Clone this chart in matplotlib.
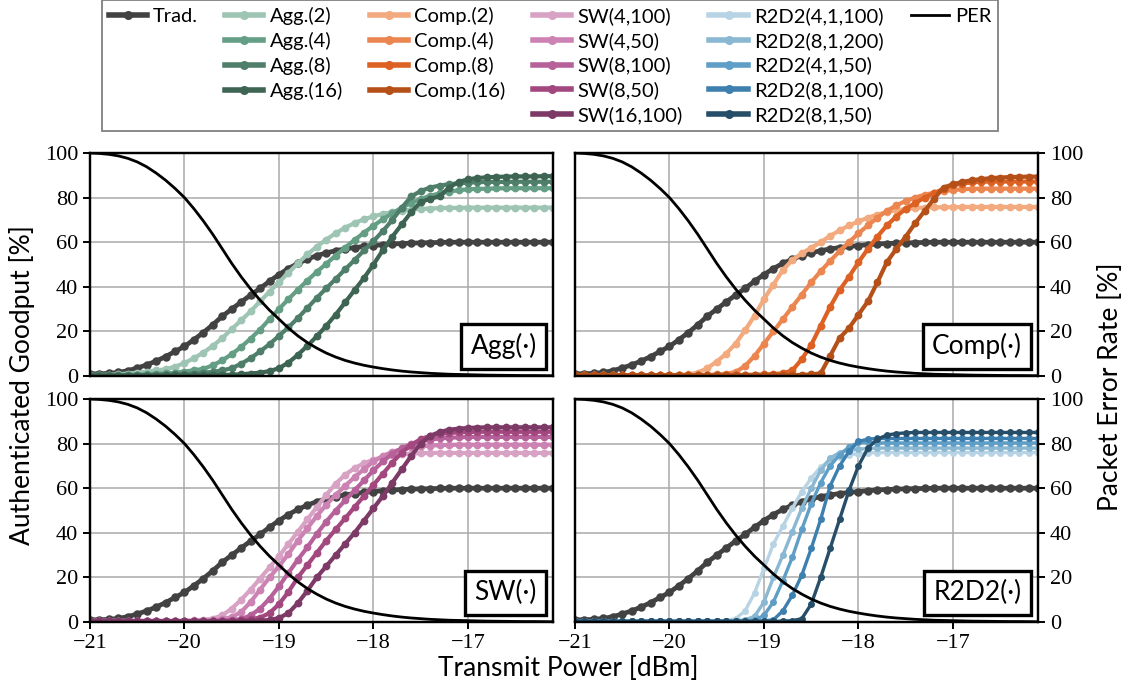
import numpy as np
import matplotlib
matplotlib.use('Agg')
import matplotlib.pyplot as plt
from matplotlib.lines import Line2D


############################################################################
## data (goodput / PER in %, power in dBm)
############################################################################
power = [-21.0, -20.9, -20.8, -20.7, -20.6, -20.5, -20.4, -20.3, -20.2, -20.1,
         -20.0, -19.9, -19.8, -19.7, -19.6, -19.5, -19.4, -19.3, -19.2, -19.1,
         -19.0, -18.9, -18.8, -18.7, -18.6, -18.5, -18.4, -18.3, -18.2, -18.1,
         -18.0, -17.9, -17.8, -17.7, -17.6, -17.5, -17.4, -17.3, -17.2, -17.1,
         -17.0, -16.9, -16.8, -16.7, -16.6, -16.5, -16.4, -16.3, -16.2, -16.1]

per = [100.0, 99.8, 99.4, 98.7, 97.6, 96.0, 93.8, 91.0, 87.8, 84.1,
       80.0, 75.0, 69.5, 63.5, 57.0, 50.5, 44.5, 39.0, 34.0, 29.5,
       25.5, 21.5, 18.0, 15.0, 12.5, 10.3, 8.5, 7.0, 5.8, 4.8,
       4.0, 3.3, 2.7, 2.2, 1.8, 1.5, 1.2, 1.0, 0.8, 0.7,
       0.6, 0.5, 0.4, 0.35, 0.3, 0.25, 0.2, 0.2, 0.15, 0.1]

trad = [1.0, 1.0, 1.2, 1.6, 2.4, 3.6, 5.0, 6.7, 8.7, 11.0,
        13.3, 16.3, 19.5, 23.0, 26.8, 30.0, 33.2, 36.3, 39.3, 42.5,
        45.5, 48.2, 50.5, 52.4, 54.0, 55.2, 56.2, 57.0, 57.6, 58.1,
        58.5, 58.9, 59.2, 59.4, 59.6, 59.7, 59.8, 59.9, 60.0, 60.0,
        60.0, 60.0, 60.0, 60.0, 60.0, 60.0, 60.0, 60.0, 60.0, 60.0]

agg_labels = ['Agg.(2)', 'Agg.(4)', 'Agg.(8)', 'Agg.(16)']
agg_2 = [0.5, 0.5, 0.6, 0.8, 1.1, 1.5, 2.0, 2.5, 3.0, 4.2,
         5.8, 8.0, 10.5, 13.5, 17.0, 21.0, 25.0, 29.0, 33.5, 37.8,
         42.0, 46.3, 50.5, 54.5, 58.0, 61.2, 64.0, 66.5, 68.6, 70.3,
         71.6, 72.7, 73.5, 74.1, 74.6, 74.9, 75.1, 75.3, 75.4, 75.4,
         75.5, 75.5, 75.5, 75.5, 75.5, 75.5, 75.5, 75.5, 75.5, 75.5]
agg_4 = [0.4, 0.4, 0.4, 0.5, 0.5, 0.6, 0.8, 1.0, 1.2, 1.5,
         2.0, 2.6, 3.2, 4.8, 7.0, 9.8, 13.0, 16.8, 20.8, 25.5,
         30.0, 34.5, 38.7, 42.8, 46.7, 50.3, 54.0, 57.6, 61.0, 64.3,
         67.4, 70.3, 73.0, 75.5, 77.6, 79.4, 80.8, 81.9, 82.7, 83.3,
         83.7, 83.9, 84.0, 84.1, 84.2, 84.2, 84.2, 84.2, 84.2, 84.2]
agg_8 = [0.3, 0.3, 0.3, 0.3, 0.3, 0.4, 0.4, 0.5, 0.6, 0.7,
         0.9, 1.1, 1.4, 1.9, 2.5, 3.5, 5.5, 8.0, 11.0, 14.3,
         18.0, 21.8, 26.0, 30.5, 35.0, 39.3, 43.5, 47.8, 52.0, 56.3,
         60.5, 65.0, 70.0, 75.5, 80.5, 83.0, 84.5, 85.4, 86.0, 86.4,
         86.7, 86.9, 87.0, 87.0, 87.0, 87.1, 87.1, 87.1, 87.1, 87.1]
agg_16 = [0.2, 0.2, 0.2, 0.2, 0.2, 0.2, 0.2, 0.2, 0.3, 0.3,
          0.3, 0.3, 0.4, 0.4, 0.5, 0.6, 0.8, 1.1, 1.5, 2.2,
          3.5, 6.0, 9.5, 13.5, 17.8, 22.5, 27.5, 33.0, 38.5, 44.0,
          50.0, 56.5, 62.5, 68.0, 73.5, 78.0, 79.5, 80.5, 84.5, 87.0,
          88.2, 88.8, 89.1, 89.3, 89.4, 89.5, 89.5, 89.5, 89.6, 89.6]

comp_labels = ['Comp.(2)', 'Comp.(4)', 'Comp.(8)', 'Comp.(16)']
comp_2 = [0.3, 0.3, 0.3, 0.3, 0.3, 0.3, 0.3, 0.3, 0.3, 0.3,
          0.4, 0.5, 0.8, 1.5, 3.5, 6.5, 10.0, 14.5, 20.5, 27.0,
          34.5, 41.0, 47.5, 52.0, 55.0, 57.5, 60.0, 62.8, 65.3, 67.5,
          69.3, 71.0, 72.4, 73.5, 74.3, 74.9, 75.3, 75.5, 75.6, 75.7,
          75.7, 75.8, 75.8, 75.8, 75.8, 75.8, 75.8, 75.8, 75.8, 75.8]
comp_4 = [0.3, 0.3, 0.3, 0.3, 0.3, 0.3, 0.3, 0.3, 0.3, 0.3,
          0.3, 0.3, 0.3, 0.4, 0.5, 0.7, 1.0, 1.8, 4.5, 9.0,
          14.5, 20.0, 25.5, 31.0, 36.5, 42.0, 47.0, 51.5, 56.0, 60.0,
          64.0, 67.5, 71.0, 74.0, 76.5, 78.5, 80.0, 81.3, 82.2, 82.9,
          83.4, 83.7, 83.9, 84.0, 84.0, 84.0, 84.0, 84.0, 84.0, 84.0]
comp_8 = [0.3, 0.3, 0.3, 0.3, 0.3, 0.3, 0.3, 0.3, 0.3, 0.3,
          0.3, 0.3, 0.3, 0.3, 0.3, 0.3, 0.3, 0.4, 0.5, 0.6,
          0.7, 0.9, 1.2, 2.5, 7.5, 14.0, 22.5, 31.0, 38.5, 44.5,
          51.0, 57.0, 62.5, 67.5, 71.5, 75.0, 77.5, 80.0, 82.0, 84.0,
          85.5, 86.3, 86.8, 87.1, 87.2, 87.2, 87.2, 87.2, 87.2, 87.2]
comp_16 = [0.3, 0.3, 0.3, 0.3, 0.3, 0.3, 0.3, 0.3, 0.3, 0.3,
           0.3, 0.3, 0.3, 0.3, 0.3, 0.3, 0.3, 0.3, 0.3, 0.3,
           0.3, 0.3, 0.3, 0.4, 0.5, 0.7, 1.2, 9.0, 17.0, 21.5,
           27.5, 33.5, 42.0, 51.0, 57.0, 62.5, 68.5, 74.0, 79.5, 84.5,
           86.0, 87.0, 87.8, 88.3, 88.7, 89.0, 89.2, 89.3, 89.4, 89.4]

sw_labels = ['SW(4,100)', 'SW(4,50)', 'SW(8,100)', 'SW(8,50)', 'SW(16,100)']
sw_4_100 = [0.5, 0.5, 0.5, 0.5, 0.5, 0.5, 0.5, 0.5, 0.5, 0.5,
            0.6, 0.8, 1.0, 1.5, 3.0, 6.0, 10.0, 14.5, 19.5, 24.5,
            29.5, 35.0, 40.5, 46.0, 51.5, 57.0, 62.0, 66.0, 69.0, 71.2,
            72.8, 73.9, 74.7, 75.2, 75.5, 75.7, 75.8, 75.8, 75.8, 75.8,
            75.8, 75.8, 75.8, 75.8, 75.8, 75.8, 75.8, 75.8, 75.8, 75.8]
sw_4_50 = [0.5, 0.5, 0.5, 0.5, 0.5, 0.5, 0.5, 0.5, 0.5, 0.5,
           0.5, 0.5, 0.6, 0.8, 1.2, 2.2, 4.5, 9.0, 14.5, 20.0,
           25.0, 30.5, 36.5, 42.0, 47.5, 52.5, 57.0, 61.0, 65.0, 68.5,
           72.0, 74.5, 76.3, 77.5, 78.3, 78.8, 79.1, 79.3, 79.4, 79.5,
           79.5, 79.5, 79.5, 79.5, 79.5, 79.5, 79.5, 79.5, 79.5, 79.5]
sw_8_100 = [0.4, 0.4, 0.4, 0.4, 0.4, 0.4, 0.4, 0.4, 0.4, 0.4,
            0.4, 0.4, 0.4, 0.4, 0.5, 0.8, 1.3, 3.0, 6.0, 10.5,
            16.0, 22.0, 28.0, 33.5, 39.5, 45.0, 50.0, 54.5, 59.0, 63.5,
            68.0, 72.0, 75.5, 78.0, 79.8, 81.0, 81.8, 82.3, 82.6, 82.8,
            83.0, 83.0, 83.0, 83.0, 83.0, 83.0, 83.0, 83.0, 83.0, 83.0]
sw_8_50 = [0.4, 0.4, 0.4, 0.4, 0.4, 0.4, 0.4, 0.4, 0.4, 0.4,
           0.4, 0.4, 0.4, 0.4, 0.4, 0.5, 0.7, 1.2, 2.0, 4.0,
           8.0, 13.5, 20.0, 25.5, 31.0, 36.5, 41.5, 46.5, 51.5, 56.5,
           61.5, 66.5, 71.5, 76.0, 79.5, 82.0, 83.5, 84.3, 84.8, 85.0,
           85.2, 85.3, 85.3, 85.3, 85.3, 85.3, 85.3, 85.3, 85.3, 85.3]
sw_16_100 = [0.3, 0.3, 0.3, 0.3, 0.3, 0.3, 0.3, 0.3, 0.3, 0.3,
             0.3, 0.3, 0.3, 0.3, 0.3, 0.3, 0.3, 0.4, 0.6, 0.9,
             1.8, 4.0, 8.5, 14.0, 20.0, 25.0, 30.0, 35.0, 40.0, 45.5,
             51.0, 56.5, 62.5, 68.5, 74.5, 80.0, 83.5, 85.2, 86.2, 86.7,
             87.0, 87.2, 87.3, 87.3, 87.3, 87.3, 87.3, 87.3, 87.3, 87.3]

r2d2_labels = ['R2D2(4,1,100)', 'R2D2(8,1,200)', 'R2D2(4,1,50)',
               'R2D2(8,1,100)', 'R2D2(8,1,50)']
r2d2_4_1_100 = [0.3, 0.3, 0.3, 0.3, 0.3, 0.3, 0.3, 0.3, 0.3, 0.3,
                0.3, 0.3, 0.3, 0.3, 0.3, 0.4, 0.6, 1.5, 5.0, 13.0,
                24.0, 35.0, 43.0, 51.0, 58.5, 64.5, 69.5, 72.5, 74.0, 75.0,
                75.5, 75.8, 76.0, 76.0, 76.0, 76.0, 76.0, 76.0, 76.0, 76.0,
                76.0, 76.0, 76.0, 76.0, 76.0, 76.0, 76.0, 76.0, 76.0, 76.0]
r2d2_8_1_200 = [0.3, 0.3, 0.3, 0.3, 0.3, 0.3, 0.3, 0.3, 0.3, 0.3,
                0.3, 0.3, 0.3, 0.3, 0.3, 0.3, 0.4, 0.6, 1.0, 2.5,
                9.0, 20.0, 30.0, 40.5, 51.0, 60.0, 68.0, 73.5, 76.0, 77.0,
                77.5, 77.8, 78.0, 78.0, 78.0, 78.0, 78.0, 78.0, 78.0, 78.0,
                78.0, 78.0, 78.0, 78.0, 78.0, 78.0, 78.0, 78.0, 78.0, 78.0]
r2d2_4_1_50 = [0.3, 0.3, 0.3, 0.3, 0.3, 0.3, 0.3, 0.3, 0.3, 0.3,
               0.3, 0.3, 0.3, 0.3, 0.3, 0.3, 0.3, 0.4, 0.5, 0.8,
               3.0, 9.0, 18.5, 29.0, 41.5, 53.0, 62.5, 70.0, 75.0, 78.5,
               80.5, 80.5, 80.3, 80.3, 80.3, 80.3, 80.3, 80.3, 80.3, 80.3,
               80.3, 80.3, 80.3, 80.3, 80.3, 80.3, 80.3, 80.3, 80.3, 80.3]
r2d2_8_1_100 = [0.3, 0.3, 0.3, 0.3, 0.3, 0.3, 0.3, 0.3, 0.3, 0.3,
                0.3, 0.3, 0.3, 0.3, 0.3, 0.3, 0.3, 0.3, 0.3, 0.4,
                0.5, 1.0, 5.0, 12.0, 21.0, 33.0, 46.0, 61.0, 70.0, 76.5,
                81.0, 82.0, 82.3, 82.3, 82.3, 82.3, 82.3, 82.3, 82.3, 82.3,
                82.3, 82.3, 82.3, 82.3, 82.3, 82.3, 82.3, 82.3, 82.3, 82.3]
r2d2_8_1_50 = [0.3, 0.3, 0.3, 0.3, 0.3, 0.3, 0.3, 0.3, 0.3, 0.3,
               0.3, 0.3, 0.3, 0.3, 0.3, 0.3, 0.3, 0.3, 0.3, 0.3,
               0.3, 0.3, 0.4, 0.6, 1.5, 8.0, 20.0, 33.0, 46.0, 59.0,
               70.0, 78.0, 82.0, 83.8, 84.5, 84.8, 85.0, 85.0, 85.0, 85.0,
               85.0, 85.0, 85.0, 85.0, 85.0, 85.0, 85.0, 85.0, 85.0, 85.0]

## colours
trad_color = '#424242'
agg_colors = ['#9ec4b3', '#649e85', '#4f7f6b', '#3e6454']
comp_colors = ['#f2aa7e', '#ec8650', '#dc6122', '#b65019']
sw_colors = ['#d8a2c4', '#cc82b2', '#b7619b', '#a3487f', '#7d3a66']
r2d2_colors = ['#b8d4e4', '#8ab8d3', '#5f9ec6', '#3d7fae', '#264e69']

groups = [
    ('Agg(\u00b7)', agg_labels, [agg_2, agg_4, agg_8, agg_16], agg_colors),
    ('Comp(\u00b7)', comp_labels, [comp_2, comp_4, comp_8, comp_16], comp_colors),
    ('SW(\u00b7)', sw_labels, [sw_4_100, sw_4_50, sw_8_100, sw_8_50, sw_16_100], sw_colors),
    ('R2D2(\u00b7)', r2d2_labels, [r2d2_4_1_100, r2d2_8_1_200, r2d2_4_1_50,
                                   r2d2_8_1_100, r2d2_8_1_50], r2d2_colors),
]

############################################################################
## style
############################################################################
sans = 'Lato'
serif = 'Liberation Serif'
lw = 3.0
ms = 5.6
tick_size = 16
label_size = 19

fig = plt.figure(figsize=(11.32, 6.87), dpi=100)

W, H = 1132.0, 687.0
lefts = [90, 575]
tops = [153, 399]
aw, ah = 463, 223

handles = {}
for k, (name, labels, series, colors) in enumerate(groups):
    row, col = divmod(k, 2)
    ax = fig.add_axes([lefts[col] / W, 1 - (tops[row] + ah) / H, aw / W, ah / H])

    ## thinner strokes for the steep R2D2 curves
    glw = lw - 0.6 if k == 3 else lw
    gms = ms - 0.6 if k == 3 else ms

    h, = ax.plot(power, trad, '-o', color=trad_color, lw=lw + 0.4, ms=ms + 0.5,
                 mew=0, label='Trad.')
    handles['Trad.'] = h
    for lab, yy, c in zip(labels, series, colors):
        h, = ax.plot(power, yy, '-o', color=c, lw=glw, ms=gms, mew=0, label=lab)
        handles[lab] = h

    ax.set_xlim(-21, -16.1)
    ax.set_ylim(0, 100)
    ax.set_xticks([-21, -20, -19, -18, -17])
    ax.set_yticks([0, 20, 40, 60, 80, 100])
    ax.grid(True, color='#aaaaaa', lw=1.1)
    ax.set_axisbelow(True)
    for s in ax.spines.values():
        s.set_linewidth(1.6)
    ax.tick_params(direction='out', length=5, width=1.4, labelsize=tick_size)
    for t in ax.get_xticklabels() + ax.get_yticklabels():
        t.set_fontfamily(serif)
    if row == 0:
        ax.tick_params(axis='x', length=0, labelbottom=False)
    if col == 1:
        ax.tick_params(axis='y', length=0, labelleft=False)

    ## packet error rate on twin axis
    ax2 = ax.twinx()
    h, = ax2.plot(power, per, color='black', lw=2.0, label='PER')
    handles['PER'] = h
    ax2.set_ylim(0, 100)
    ax2.set_yticks([0, 20, 40, 60, 80, 100])
    ax2.tick_params(direction='out', length=5, width=1.4, labelsize=tick_size)
    for t in ax2.get_yticklabels():
        t.set_fontfamily(serif)
    if col == 0:
        ax2.tick_params(axis='y', length=0, labelright=False)
    for s in ax2.spines.values():
        s.set_linewidth(1.6)

    ## panel name box
    ax2.text(0.965, 0.075, name, transform=ax2.transAxes, ha='right', va='bottom',
             fontsize=label_size, family=sans,
             bbox=dict(boxstyle='square,pad=0.35', fc='white', ec='black', lw=2.4))

## axis labels
fig.text(22 / W, 1 - 385 / H, 'Authenticated Goodput [%]', rotation=90,
         ha='center', va='center', fontsize=label_size, family=sans)
fig.text(1110 / W, 1 - 387 / H, 'Packet Error Rate [%]', rotation=90,
         ha='center', va='center', fontsize=label_size, family=sans)
fig.text(568 / W, 1 - 668 / H, 'Transmit Power [dBm]',
         ha='center', va='center', fontsize=label_size, family=sans)

############################################################################
## legend, column-major with empty slots
############################################################################
blank = Line2D([], [], color='none')
cols = [['Trad.'], agg_labels, comp_labels, sw_labels, r2d2_labels, ['PER']]
leg_h, leg_l = [], []
for c in cols:
    for i in range(5):
        if i < len(c):
            leg_h.append(handles[c[i]])
            leg_l.append(c[i])
        else:
            leg_h.append(blank)
            leg_l.append('')

leg = fig.legend(leg_h, leg_l, ncol=6, loc='upper center',
                 bbox_to_anchor=(550 / W, 1.0),
                 prop={'family': sans, 'size': 14.5},
                 frameon=True, fancybox=False, framealpha=1, edgecolor='#808080',
                 handlelength=1.9, handletextpad=0.3, columnspacing=1.35,
                 labelspacing=0.34, borderpad=0.35, borderaxespad=0.0)
leg.get_frame().set_linewidth(1.3)
for lh in leg.legend_handles:
    if lh.get_label() != 'PER':
        lh.set_linewidth(4.0)
        lh.set_markersize(6.5)

fig.savefig('out.png', dpi=100, facecolor='white')
